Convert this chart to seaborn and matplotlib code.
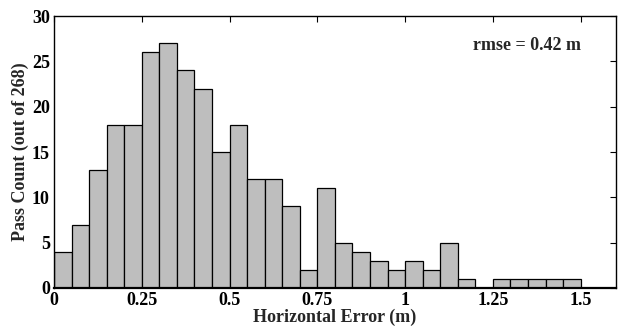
import numpy as np
import pandas as pd
import matplotlib
matplotlib.use("Agg")
import matplotlib.pyplot as plt
import seaborn as sns

bin_width = 0.05
counts = [4, 7, 13, 18, 18, 26, 27, 24, 22, 15, 18, 12, 12, 9, 2,
          11, 5, 4, 3, 2, 3, 2, 5, 1, 0, 1, 1, 1, 1, 1, 0, 0]
xticks = [0, 0.25, 0.5, 0.75, 1, 1.25, 1.5]
xtick_labels = ["0", "0.25", "0.5", "0.75", "1", "1.25", "1.5"]
yticks = [0, 5, 10, 15, 20, 25, 30]

edges = np.arange(len(counts) + 1) * bin_width
centers = (edges[:-1] + edges[1:]) / 2
df = pd.DataFrame({"err": centers, "n": counts})

sns.set_theme(style="white")
plt.rcParams['font.family'] = ['Liberation Serif', 'DejaVu Serif']
plt.rcParams['font.weight'] = 'bold'

fig = plt.figure(figsize=(6.18, 3.28), dpi=100)
ax = fig.add_axes([0.0874, 0.122, 0.909, 0.829])

sns.histplot(data=df, x="err", weights="n", bins=list(edges), ax=ax,
             color="#bebebe", edgecolor="black", linewidth=0.9, alpha=1.0)

ax.set_xlim(0, 1.6)
ax.set_ylim(0, 30)
ax.set_xticks(xticks)
ax.set_xticklabels(xtick_labels)
ax.set_yticks(yticks)
ax.tick_params(direction="in", top=True, right=True, length=4, width=0.8,
               labelsize=13, pad=3, colors="black")
for lab in ax.get_xticklabels() + ax.get_yticklabels():
    lab.set_fontweight("bold")
for s in ax.spines.values():
    s.set_color("black")
    s.set_linewidth(1.0)
ax.spines["bottom"].set_linewidth(1.6)

ax.set_xlabel("Horizontal Error (m)", fontsize=13, fontweight="bold", labelpad=0)
ax.set_ylabel("Pass Count (out of 268)", fontsize=13, fontweight="bold", labelpad=2)
ax.text(0.938, 0.893, "rmse = 0.42 m", transform=ax.transAxes, ha="right",
        va="center", fontsize=13, fontweight="bold")

fig.savefig("out.png", dpi=100)
